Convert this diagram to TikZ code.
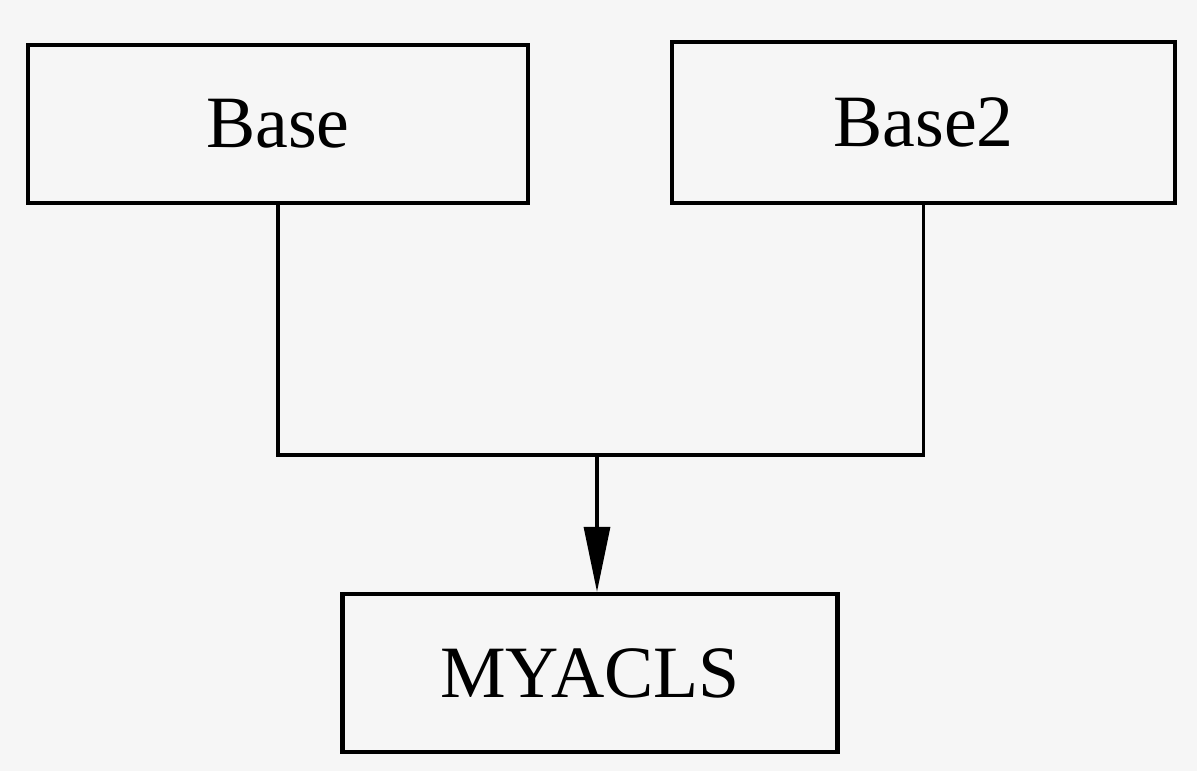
\documentclass[tikz,border=0pt]{standalone}
\usepackage{fontspec}
\setmainfont{Liberation Serif}
\usetikzlibrary{arrows.meta}

\begin{document}
\begin{tikzpicture}
\tikzstyle{box}=[rectangle,draw,line width=1.2pt,align=center,minimum width=5cm,minimum height=1.58cm,font=\fontsize{21}{25}\selectfont]
\tikzstyle{link}=[line width=0.9pt]
\tikzstyle{arrow}=[-{Triangle[length=6.5mm,width=2.6mm]},line width=0.9pt]
\fill [gray!7] (0,0) rectangle (11.97,-7.71);
\useasboundingbox (0,0) rectangle (11.97,-7.71);
\node (n1) [box] at (2.78,-1.24) {Base};
\node (n2) [box,minimum width=5.03cm,minimum height=1.61cm] at (9.235,-1.225) {Base2};
\node (n3) [box,minimum width=4.95cm] at (5.9,-6.73) {MYACLS};
\coordinate (j) at (5.97,-4.55);
\draw [link] (n1.south) |- (j) -| (n2.south);
\draw [arrow] (j) -- (j |- n3.north);
\end{tikzpicture}
\end{document}
